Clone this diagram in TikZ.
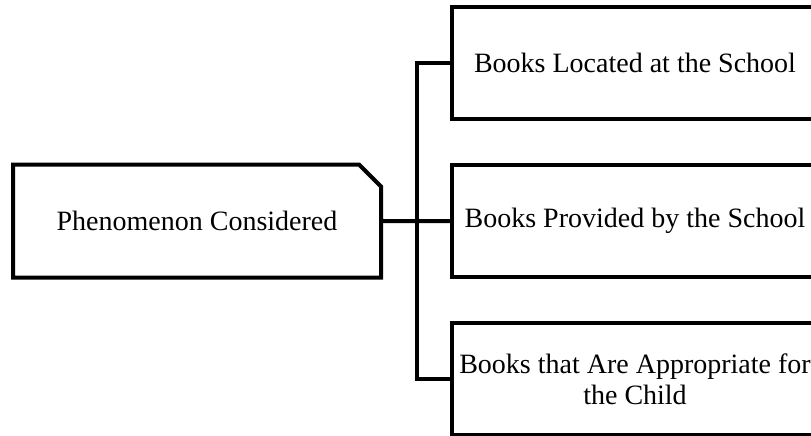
\documentclass[tikz,border=0pt]{standalone}
\usepackage{fontspec}
\setmainfont{Liberation Serif}
\usetikzlibrary{positioning, shapes.misc, calc}

\begin{document}
\begin{tikzpicture}[
  x=1pt, y=-1pt,
  node distance=42pt,
  root/.style={chamfered rectangle, chamfered rectangle corners=north east,
    chamfered rectangle xsep=11pt, chamfered rectangle ysep=11pt,
    draw=black, line width=4pt, minimum width=368pt, minimum height=113pt,
    font=\fontsize{28}{31}\selectfont},
  leaf/.style={rectangle, draw=black, line width=4pt, minimum width=366pt,
    minimum height=112pt, align=center, font=\fontsize{28}{31}\selectfont},
  link/.style={line width=4pt}
]
\useasboundingbox (0,0) rectangle (811,436);

\node[root] (phen) at (197,221) {Phenomenon Considered};
\node[leaf] (provided) at (635,221) {Books Provided by the School};
\node[leaf, above=of provided] (located) {Books Located at the School};
\node[leaf, below=of provided] (child) {Books that Are Appropriate for\\the Child};

\coordinate (fork) at ($(phen.east)!0.5!(provided.west)$);

\draw[link] (phen) -- (provided);
\draw[link] (located.west) -| (fork) |- (child.west);

\end{tikzpicture}
\end{document}
